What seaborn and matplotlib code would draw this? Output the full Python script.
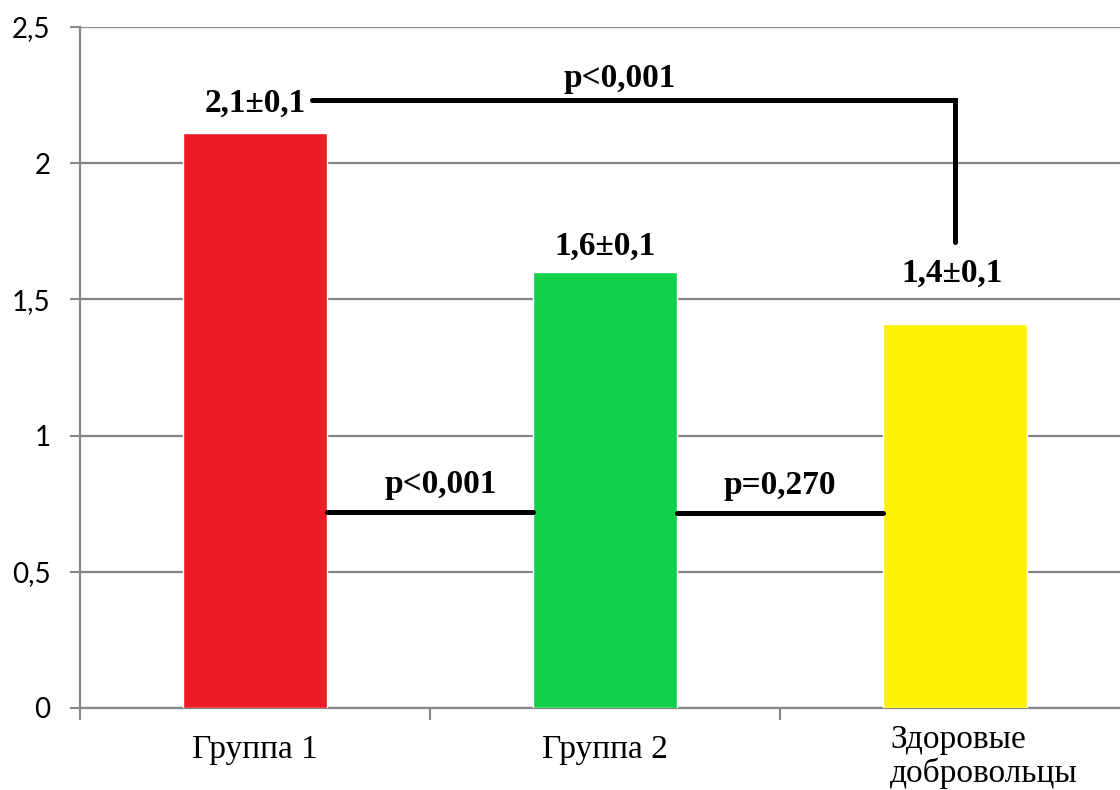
import matplotlib
matplotlib.use("Agg")
import matplotlib.pyplot as plt
import seaborn as sns
import pandas as pd

# ---- data ----
categories = ["Группа 1", "Группа 2", "Здоровые\nдобровольцы"]
values = [2.11, 1.60, 1.41]
value_labels = ["2,1±0,1", "1,6±0,1", "1,4±0,1"]
bar_colors = ["#ED1C24", "#12D04A", "#FFF200"]
y_ticks = [0, 0.5, 1, 1.5, 2, 2.5]
y_tick_labels = ["0", "0,5", "1", "1,5", "2", "2,5"]
p_top = "p<0,001"
p_12 = "p<0,001"
p_23 = "p=0,270"

sns.set_theme(style="white")
plt.rcParams["font.family"] = ["DejaVu Sans"]

df = pd.DataFrame({"cat": categories, "val": values})

fig = plt.figure(figsize=(11.2, 7.9), dpi=100)
ax = fig.add_axes([80 / 1120, 82 / 790, 1040 / 1120, 681 / 790])

sns.barplot(data=df, x="cat", y="val", hue="cat", palette=bar_colors,
            width=0.41, saturation=1, legend=False, ax=ax, zorder=3)

grid_c = "#868686"
ax.set_yticks(y_ticks)
ax.set_yticklabels(y_tick_labels, fontfamily="Lato", fontsize=20, color="black")
ax.yaxis.grid(True, color=grid_c, lw=1.6, zorder=0)
ax.set_axisbelow(True)
ax.tick_params(axis="y", length=7.2, width=1.5, color=grid_c, pad=14, direction="out", left=True)

ax.set_xticks([-0.5, 0.5, 1.5, 2.5])
ax.set_xticklabels([])
ax.tick_params(axis="x", length=8.6, width=1.5, color=grid_c, direction="out", bottom=True)
ax.set_xlabel("")
ax.set_ylabel("")
ax.set_ylim(0, 2.5)
ax.set_xlim(-0.5, 2.471)

for s in ["top", "right"]:
    ax.spines[s].set_visible(False)
for s in ["left", "bottom"]:
    ax.spines[s].set_color(grid_c)
    ax.spines[s].set_linewidth(1.6)

# category labels
serif = "Liberation Serif"
for i in range(2):
    ax.annotate(categories[i], xy=(i, 0), xycoords=("data", "axes fraction"),
                xytext=(0, -36), textcoords="offset points", ha="center",
                va="baseline", fontfamily=serif, fontsize=24, color="black",
                annotation_clip=False)
ax.annotate(categories[2], xy=(1.814, 0), xycoords=("data", "axes fraction"),
            xytext=(0, -12), textcoords="offset points", ha="left", va="top",
            multialignment="left", linespacing=1.1, fontfamily=serif,
            fontsize=24, color="black", annotation_clip=False)

bold = dict(fontfamily=serif, fontsize=24, fontweight="bold", color="black",
            ha="center", va="baseline", zorder=5)

# value labels
ax.text(0, 2.188, value_labels[0], **bold)
ax.text(1.0, 1.663, value_labels[1], **bold)
ax.text(1.99, 1.564, value_labels[2], **bold)

# significance lines
lk = dict(color="black", lw=3.6, solid_capstyle="round", solid_joinstyle="miter", zorder=4)
ax.plot([0.163, 2.0, 2.0], [2.232, 2.232, 1.711], **lk)
ax.plot([0.205, 0.795], [0.72, 0.72], **lk)
ax.plot([1.205, 1.795], [0.716, 0.716], **lk)

ax.text(1.041, 2.280, p_top, **bold)
ax.text(0.53, 0.789, p_12, **bold)
ax.text(1.5, 0.785, p_23, **bold)

fig.savefig("out.png", dpi=100, facecolor="white")
